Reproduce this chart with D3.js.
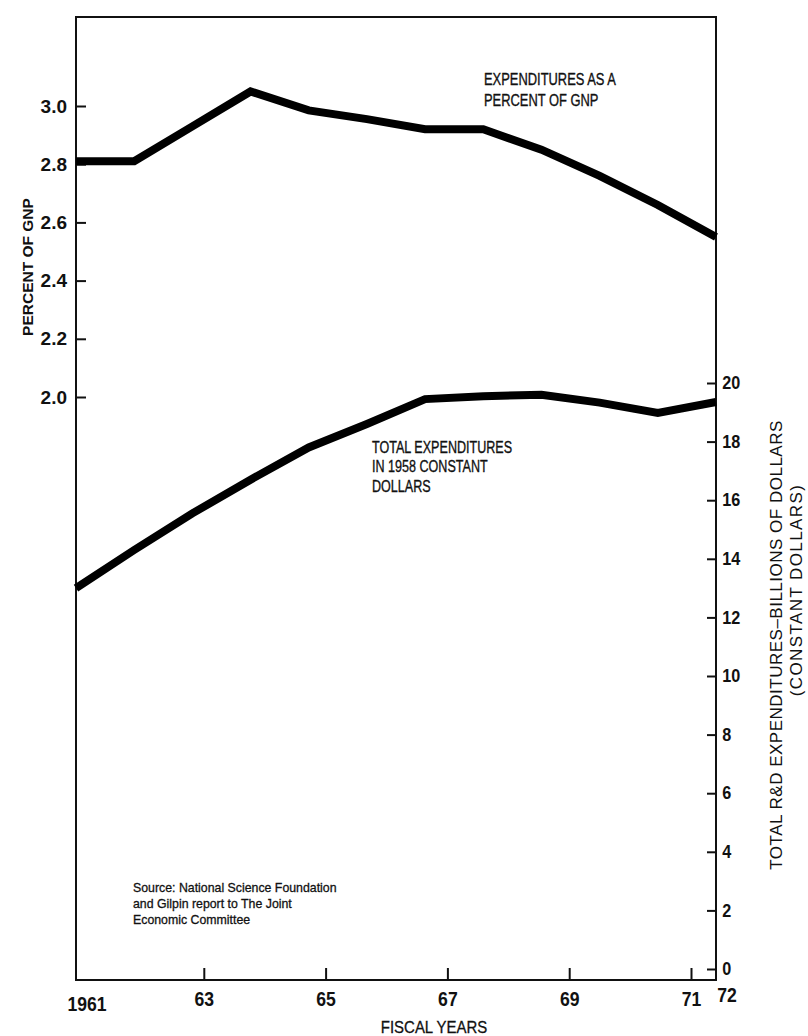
<!DOCTYPE html>
<html>
<head>
<meta charset="utf-8">
<script src="https://cdn.jsdelivr.net/npm/d3@7/dist/d3.min.js"></script>
<style>
  body { margin: 0; background: #fff; }
  text { font-family: "Liberation Sans", Arial, Helvetica, sans-serif; fill: #111; }
</style>
</head>
<body>
<script>
// fiscal years and the two series
const years = [1961, 1962, 1963, 1964, 1965, 1966, 1967, 1968, 1969, 1970, 1971, 1972]
const gnpPercent = [2.81, 2.81, 2.93, 3.05, 2.985, 2.955, 2.92, 2.92, 2.85, 2.76, 2.66, 2.55]
const totalBillions = [13.0, 14.3, 15.55, 16.7, 17.8, 18.6, 19.45, 19.55, 19.6, 19.33, 18.98, 19.35]

const leftTicks = [2.0, 2.2, 2.4, 2.6, 2.8, 3.0]
const rightTicks = [0, 2, 4, 6, 8, 10, 12, 14, 16, 18, 20]
const yearTicks = [1963, 1965, 1967, 1969, 1971]
const yearTickLabels = ['63', '65', '67', '69', '71']
const endYears = [1961, 1972]
const endLabels = ['1961', '72']

const W = 808, H = 1036
const box = { left: 76, right: 716, top: 17, bottom: 980 }
const narrow = 'scale(0.88,1)' // the typeface of the scan is a condensed grotesque

const svg = d3.select(document.body).append('svg')
  .attr('width', W)
  .attr('height', H)
  .attr('xmlns', 'http://www.w3.org/2000/svg')

// data scale: one year = 58px, 1961 on left axis and 1972 on right axis
const x = d3.scaleLinear().domain([1961, 1972]).range([box.left, box.right])
// the drafted tick marks sit on a slightly wider spacing than the plotted points
const xTick = d3.scaleLinear().domain([1961, 1971]).range([82, 691])
const yLeft = d3.scaleLinear().domain([2.0, 3.0]).range([397, 106])
const yRight = d3.scaleLinear().domain([0, 20]).range([969, 383])

// frame
svg.append('rect')
  .attr('x', box.left).attr('y', box.top)
  .attr('width', box.right - box.left).attr('height', box.bottom - box.top)
  .attr('fill', 'none').attr('stroke', '#111').attr('stroke-width', 2)

// left axis
const gl = svg.append('g').attr('transform', `translate(${box.left},0)`)
  .call(d3.axisLeft(yLeft).tickValues(leftTicks).tickFormat(d3.format('.1f')).tickSize(-10).tickPadding(9))
gl.select('.domain').remove()
gl.selectAll('.tick line').attr('stroke', '#111').attr('stroke-width', 2)
gl.selectAll('.tick text').attr('font-size', 19).attr('font-weight', 'bold')

// right axis
const gr = svg.append('g').attr('transform', `translate(${box.right},0)`)
  .call(d3.axisRight(yRight).tickValues(rightTicks).tickSize(-9).tickPadding(7))
gr.select('.domain').remove()
gr.selectAll('.tick line').attr('stroke', '#111').attr('stroke-width', 2)
gr.selectAll('.tick text').attr('font-size', 18).attr('font-weight', 'bold').attr('transform', 'scale(0.9,1)')

// bottom axis
const gb = svg.append('g').attr('transform', `translate(0,${box.bottom})`)
  .call(d3.axisBottom(xTick).tickValues(yearTicks).tickFormat((d, i) => yearTickLabels[i]).tickSize(-12).tickPadding(12))
gb.select('.domain').remove()
gb.selectAll('.tick line').attr('stroke', '#111').attr('stroke-width', 2)
gb.selectAll('.tick text').attr('font-size', 20).attr('font-weight', 'bold').attr('transform', narrow)

svg.append('g').selectAll('g').data(endLabels).join('g')
  .attr('transform', (d, i) => `translate(${x(endYears[i]) + 11},${box.bottom + (i === 0 ? 31 : 22)}) ${narrow}`)
  .append('text')
  .attr('text-anchor', 'middle')
  .attr('font-size', 20).attr('font-weight', 'bold')
  .text(d => d)

// series lines
const lineGnp = d3.line().x((d, i) => x(years[i])).y(d => yLeft(d))
const lineTotal = d3.line().x((d, i) => x(years[i])).y(d => yRight(d))

svg.append('path').attr('d', lineGnp(gnpPercent))
  .attr('fill', 'none').attr('stroke', '#000').attr('stroke-width', 8)
svg.append('path').attr('d', lineTotal(totalBillions))
  .attr('fill', 'none').attr('stroke', '#000').attr('stroke-width', 8)

// annotations
function lines(xp, y0, dy, size, arr, scale) {
  const g = svg.append('g').attr('transform', `translate(${xp},${y0}) scale(${scale},1)`)
  const t = g.append('text').attr('font-size', size)
  arr.forEach((s, i) => t.append('tspan').attr('x', 0).attr('y', i * dy).text(s))
  return t
}
lines(484, 85, 21, 17, ['EXPENDITURES AS A', 'PERCENT OF GNP'], 0.76)
  .attr('stroke', '#111').attr('stroke-width', 0.35)
lines(372, 453, 19.5, 17, ['TOTAL EXPENDITURES', 'IN 1958 CONSTANT', 'DOLLARS'], 0.74)
  .attr('stroke', '#111').attr('stroke-width', 0.35)
lines(133, 892, 16, 13, ['Source: National Science Foundation', 'and Gilpin report to The Joint', 'Economic Committee'], 0.95)
  .attr('stroke', '#111').attr('stroke-width', 0.3)

// axis titles
svg.append('text').attr('transform', 'translate(33,267) rotate(-90)')
  .attr('text-anchor', 'middle').attr('font-size', 15.5).attr('font-weight', 'bold')
  .text('PERCENT OF GNP')

svg.append('text').attr('transform', 'translate(782,645) rotate(-90)')
  .attr('text-anchor', 'middle').attr('font-size', 17).attr('letter-spacing', 0.5)
  .text('TOTAL R&D EXPENDITURES\u2013BILLIONS OF DOLLARS')
svg.append('text').attr('transform', 'translate(802,590) rotate(-90)')
  .attr('text-anchor', 'middle').attr('font-size', 17).attr('letter-spacing', 1.4)
  .text('(CONSTANT DOLLARS)')

svg.append('g').attr('transform', `translate(434,1033) ${narrow}`)
  .append('text')
  .attr('text-anchor', 'middle').attr('font-size', 17)
  .attr('stroke', '#111').attr('stroke-width', 0.3)
  .text('FISCAL YEARS')
</script>
</body>
</html>
